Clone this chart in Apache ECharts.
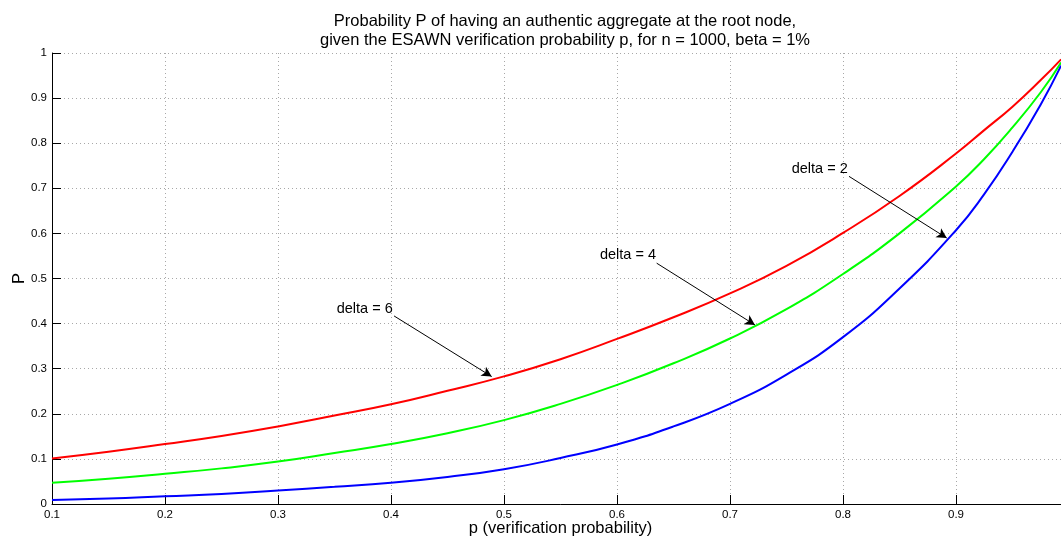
<!DOCTYPE html>
<html>
<head>
<meta charset="utf-8">
<script src="https://cdn.jsdelivr.net/npm/echarts@6/dist/echarts.min.js"></script>
<style>
  html, body { margin: 0; padding: 0; overflow: hidden; background: #fff; }
  #chart { width: 1069px; height: 540px; }
</style>
</head>
<body>
<div id="chart"></div>
<script>
// verification probability p (x axis)
const pValues = [0.1, 0.15, 0.2, 0.25, 0.3, 0.35, 0.4, 0.45, 0.5, 0.55, 0.6, 0.65, 0.7, 0.75, 0.8, 0.85, 0.9, 0.925, 0.95, 0.975, 0.993];

// P for each delta
const delta6 = [0.101, 0.116, 0.133, 0.151, 0.172, 0.196, 0.221, 0.251, 0.283, 0.321, 0.366, 0.414, 0.467, 0.528, 0.601, 0.683, 0.777, 0.829, 0.881, 0.940, 0.986];
const delta4 = [0.047, 0.056, 0.067, 0.079, 0.094, 0.113, 0.133, 0.157, 0.186, 0.222, 0.264, 0.312, 0.367, 0.432, 0.510, 0.600, 0.704, 0.765, 0.835, 0.913, 0.979];
const delta2 = [0.009, 0.012, 0.017, 0.022, 0.030, 0.038, 0.047, 0.060, 0.077, 0.102, 0.132, 0.172, 0.222, 0.287, 0.370, 0.478, 0.607, 0.687, 0.781, 0.886, 0.972];

// annotations: label anchor (right end of text) and arrow start/end, in data coords
const notes = [
  { text: 'delta = 6', at: [0.4015, 0.432], from: [0.4027, 0.417], to: [0.4891, 0.2826] },
  { text: 'delta = 4', at: [0.6345, 0.5527], from: [0.6351, 0.534], to: [0.7221, 0.397] },
  { text: 'delta = 2', at: [0.8042, 0.743], from: [0.8053, 0.7265], to: [0.8918, 0.5898] }
];

const font = '"Liberation Sans", Arial, Helvetica, sans-serif';

function pairs(ys) {
  return pValues.map((p, i) => [p, ys[i]]);
}

function lineSeries(name, ys, color, note) {
  return {
    name: name,
    type: 'line',
    data: pairs(ys),
    showSymbol: false,
    smooth: 0.5,
    lineStyle: { color: color, width: 2 },
    itemStyle: { color: color },
    markLine: {
      silent: true,
      symbol: ['none', 'arrow'],
      symbolSize: [8, 10],
      lineStyle: { color: '#000', width: 1, type: 'solid' },
      label: { show: false },
      data: [[{ coord: note.from }, { coord: note.to }]]
    },
    markPoint: {
      silent: true,
      symbol: 'circle',
      symbolSize: 0,
      label: {
        show: true,
        position: 'left',
        distance: 0,
        color: '#000',
        fontFamily: font,
        fontSize: 14.5,
        formatter: note.text
      },
      data: [{ coord: note.at }]
    }
  };
}

const chart = echarts.init(document.getElementById('chart'));

const gridLine = { show: true, lineStyle: { color: '#a8a8a8', width: 1, type: [1, 3] } };

chart.setOption({
  animation: false,
  backgroundColor: '#fff',
  title: {
    text: 'Probability P of having an authentic aggregate at the root node,\ngiven the ESAWN verification probability p, for n = 1000, beta = 1%',
    left: 560,
    textAlign: 'center',
    top: 7,
    textStyle: { fontFamily: font, fontSize: 16.5, fontWeight: 'normal', color: '#000', lineHeight: 19 }
  },
  grid: { left: 52, right: 0, top: 53, bottom: 36, outerBoundsMode: 'none', containLabel: false },
  xAxis: {
    type: 'value',
    min: 0.1,
    max: 1.0,
    interval: 0.1,
    name: 'p (verification probability)',
    nameLocation: 'middle',
    nameGap: 16,
    nameMoveOverlap: false,
    nameTextStyle: { fontFamily: font, fontSize: 16.5, color: '#000' },
    axisLine: { show: true, onZero: false, lineStyle: { color: '#000', width: 1 } },
    axisTick: { show: true, inside: true, length: 9, lineStyle: { color: '#000' } },
    axisLabel: { fontFamily: font, fontSize: 11.5, color: '#000', margin: 5, showMaxLabel: false },
    splitLine: gridLine
  },
  yAxis: {
    type: 'value',
    min: 0,
    max: 1,
    interval: 0.1,
    name: 'P',
    nameLocation: 'middle',
    nameGap: 24,
    nameMoveOverlap: false,
    nameTextStyle: { fontFamily: font, fontSize: 16.5, color: '#000' },
    axisLine: { show: true, lineStyle: { color: '#000', width: 1 } },
    axisTick: { show: true, inside: true, length: 9, lineStyle: { color: '#000' } },
    axisLabel: { fontFamily: font, fontSize: 11.5, color: '#000', margin: 5 },
    splitLine: gridLine
  },
  series: [
    lineSeries('delta = 6', delta6, '#ff0000', notes[0]),
    lineSeries('delta = 4', delta4, '#00ff00', notes[1]),
    lineSeries('delta = 2', delta2, '#0000ff', notes[2])
  ]
});
</script>
</body>
</html>
